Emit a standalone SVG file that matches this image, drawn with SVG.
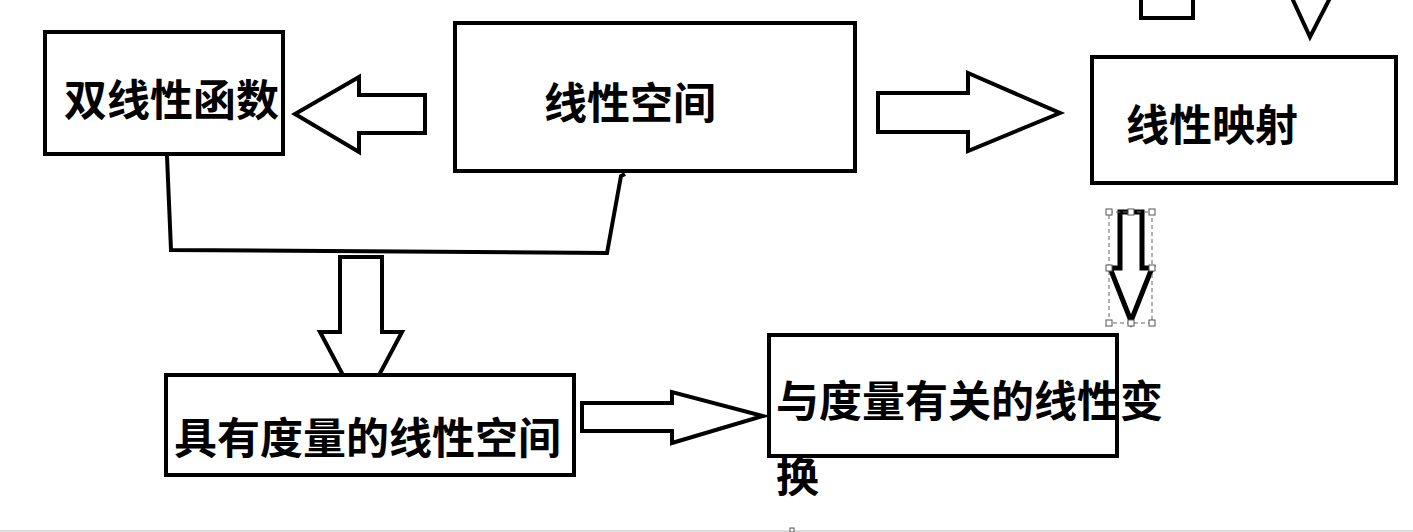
<svg xmlns="http://www.w3.org/2000/svg" width="1413" height="532" viewBox="0 0 1413 532">
<style>
.box{fill:#fff;stroke:#000;stroke-width:4}
.arr{fill:#fff;stroke:#000;stroke-width:4;stroke-linejoin:miter}
.ln{fill:none;stroke:#000;stroke-width:4}
.t{font-family:"Noto Sans CJK SC","Noto Sans",sans-serif;font-weight:bold;font-size:43px;fill:#000}
.sel{fill:none;stroke:#666;stroke-width:1;stroke-dasharray:4 3}
.h{fill:#fff;stroke:#555;stroke-width:1}
</style>
<rect x="0" y="0" width="1413" height="532" fill="#fff"/>
<g id="connectors">
<rect x="1141" y="-10" width="52" height="28" class="ln"/>
<polyline points="1292,-2 1310,37 1330,-2" class="ln"/>
<polygon class="arr" points="425,95 359,95 359,77 295,114 359,152 359,133 425,133"/>
<polygon class="arr" points="878,93 968,93 968,73 1060,113 968,151 968,132 878,132"/>
<polyline class="ln" points="167,156 171,250 607,253 621,176 625,174"/>
<polygon class="arr" points="340,257 382,257 382,332 402,332 361,409 320,332 340,332"/>
<polygon class="arr" points="582,403 672,403 672,392 763,416 672,443 672,431 582,431"/>
<polygon class="arr" style="stroke-width:5" points="1120,212 1142,212 1142,268 1152,268 1131,321 1110,268 1120,268"/>
</g>
<g id="node-bilinear">
<rect class="box" x="45" y="32" width="238" height="122"/>
<text class="t" x="64" y="116">双线性函数</text>
</g>
<g id="node-linear-space">
<rect class="box" x="455" y="23" width="400" height="148"/>
<text class="t" x="544" y="119">线性空间</text>
</g>
<g id="node-linear-map">
<rect class="box" x="1092" y="57" width="304" height="126"/>
<text class="t" x="1126" y="141">线性映射</text>
</g>
<g id="node-metric-space">
<rect class="box" x="166" y="375" width="408" height="100"/>
<text class="t" x="174" y="454">具有度量的线性空间</text>
</g>
<g id="node-metric-transform">
<rect class="box" x="769" y="335" width="348" height="121"/>
<text class="t" x="776" y="417">与度量有关的线性变</text>
<text class="t" x="776" y="492">换</text>
</g>
<g id="selection">
<rect class="sel" x="1109" y="212" width="43" height="111"/>
<rect class="h" x="1106" y="209" width="6" height="6"/>
<rect class="h" x="1128" y="209" width="6" height="6"/>
<rect class="h" x="1149" y="209" width="6" height="6"/>
<rect class="h" x="1106" y="265" width="6" height="6"/>
<rect class="h" x="1149" y="265" width="6" height="6"/>
<rect class="h" x="1106" y="320" width="6" height="6"/>
<rect class="h" x="1128" y="320" width="6" height="6"/>
<rect class="h" x="1149" y="320" width="6" height="6"/>
</g>
<rect x="0" y="530" width="1413" height="2" fill="#dcdcdc"/>
<rect x="790" y="528" width="4" height="4" fill="#fff" stroke="#555" stroke-width="1"/>
</svg>
